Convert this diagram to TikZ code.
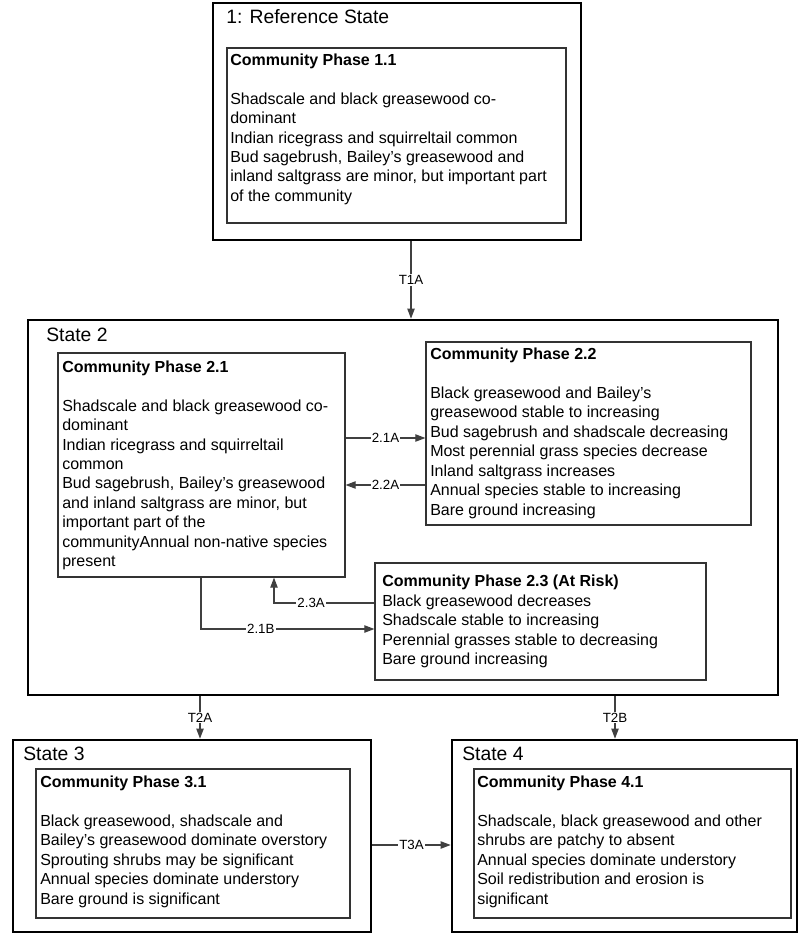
\documentclass[tikz,border=0pt]{standalone}
\usepackage{fontspec}
\setmainfont{Liberation Sans}
\usetikzlibrary{arrows.meta,fit}
\newcommand\bodyfont{\fontsize{12pt}{14.6pt}\selectfont}
\newcommand\statefont{\fontsize{14.5pt}{17pt}\selectfont}
\newcommand\labfont{\fontsize{10pt}{12pt}\selectfont}
\begin{document}
\begin{tikzpicture}[x=0.75pt,y=-0.75pt,
  statebox/.style={draw=black, line width=2pt, inner sep=0pt},
  phasebox/.style={draw=black!80, line width=0.9pt, inner sep=0pt},
  phasetext/.style={anchor=north west, align=left, inner sep=0pt, font=\bodyfont},
  statetitle/.style={anchor=base west, inner sep=0pt, font=\statefont},
  conn/.style={draw=black!75, line width=0.8pt, -{Triangle[length=7.5pt,width=5.5pt]}},
  lab/.style={font=\labfont, fill=white, inner sep=0.8pt}
]
\useasboundingbox (0,0) rectangle (800,933);

% ---------- Reference state ----------
\node[statebox, fit={(213,3) (581,240)}] (ref) {};
\node[statetitle] (reft) at (226,23) {1: Reference State};
\node[phasebox, fit={(227,48) (566,223)}] (p11) {};
\node[phasetext] (p11t) at (230,53.3) {\textbf{Community Phase 1.1}\\[14.6pt]
Shadscale and black greasewood co-\\
dominant\\
Indian ricegrass and squirreltail common\\
Bud sagebrush, Bailey’s greasewood and\\
inland saltgrass are minor, but important part\\
of the community};

% ---------- State 2 ----------
\node[statebox, fit={(28,320) (778,695)}] (s2) {};
\node[statetitle] (s2t) at (46,341) {State 2};

\node[phasebox, fit={(58,353) (345,577)}] (p21) {};
\node[phasetext] (p21t) at (62,360.3) {\textbf{Community Phase 2.1}\\[14.6pt]
Shadscale and black greasewood co-\\
dominant\\
Indian ricegrass and squirreltail\\
common\\
Bud sagebrush, Bailey’s greasewood\\
and inland saltgrass are minor, but\\
important part of the\\
communityAnnual non-native species\\
present};

\node[phasebox, fit={(426,342) (751,525)}] (p22) {};
\node[phasetext] (p22t) at (430,347.6) {\textbf{Community Phase 2.2}\\[14.6pt]
Black greasewood and Bailey’s\\
greasewood stable to increasing\\
Bud sagebrush and shadscale decreasing\\
Most perennial grass species decrease\\
Inland saltgrass increases\\
Annual species stable to increasing\\
Bare ground increasing};

\node[phasebox, fit={(375,563) (706,680)}] (p23) {};
\node[phasetext] (p23t) at (382,575) {\textbf{Community Phase 2.3 (At Risk)}\\
Black greasewood decreases\\
Shadscale stable to increasing\\
Perennial grasses stable to decreasing\\
Bare ground increasing};

% ---------- State 3 ----------
\node[statebox, fit={(13,740) (371,932)}] (s3) {};
\node[statetitle] (s3t) at (23,760) {State 3};
\node[phasebox, fit={(36,769) (350,918)}] (p31) {};
\node[phasetext] (p31t) at (40,775.7) {\textbf{Community Phase 3.1}\\[14.6pt]
Black greasewood, shadscale and\\
Bailey’s greasewood dominate overstory\\
Sprouting shrubs may be significant\\
Annual species dominate understory\\
Bare ground is significant};

% ---------- State 4 ----------
\node[statebox, fit={(452,740) (797,932)}] (s4) {};
\node[statetitle] (s4t) at (462,760) {State 4};
\node[phasebox, fit={(474,769) (791,918)}] (p41) {};
\node[phasetext] (p41t) at (477,775.7) {\textbf{Community Phase 4.1}\\[14.6pt]
Shadscale, black greasewood and other\\
shrubs are patchy to absent\\
Annual species dominate understory\\
Soil redistribution and erosion is\\
significant};

% ---------- connectors ----------
\coordinate (cT1A) at (411,0);
\coordinate (c21A) at (0,438);
\coordinate (c22A) at (0,485);
\coordinate (c23A) at (274,603);
\coordinate (c21B) at (201,629);
\coordinate (cT2A) at (200,0);
\coordinate (cT2B) at (615,0);
\coordinate (cT3A) at (0,845);

\draw[conn] (ref.south -| cT1A) -- node[lab] {T1A} (s2.north -| cT1A);
\draw[conn] (p21.east |- c21A) -- node[lab] {2.1A} (p22.west |- c21A);
\draw[conn] (p22.west |- c22A) -- node[lab] {2.2A} (p21.east |- c22A);
\draw[conn] (p23.west |- c23A) -- node[lab, pos=0.63] {2.3A} (c23A) -- (p21.south -| c23A);
\draw[conn] (p21.south -| c21B) -- (c21B) -- node[lab, pos=0.345] {2.1B} (p23.west |- c21B);
\draw[conn] (s2.south -| cT2A) -- node[lab] {T2A} (s3.north -| cT2A);
\draw[conn] (s2.south -| cT2B) -- node[lab] {T2B} (s4.north -| cT2B);
\draw[conn] (s3.east |- cT3A) -- node[lab] {T3A} (s4.west |- cT3A);
\end{tikzpicture}
\end{document}
